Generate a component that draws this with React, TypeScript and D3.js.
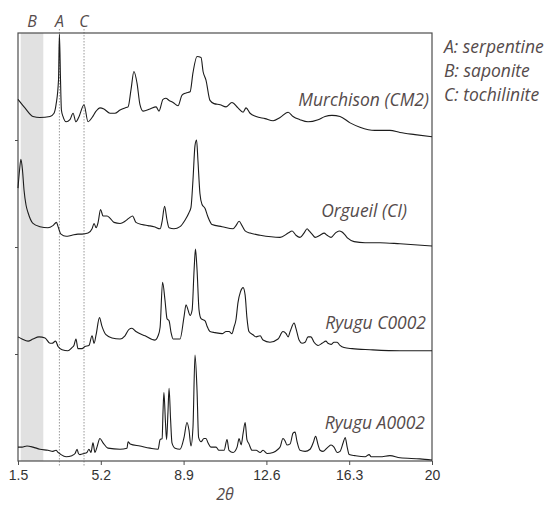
import React, { useRef, useEffect } from "react";
import * as d3 from "d3";

// 2theta (deg) vs relative intensity
const murchison: [number, number][] = [
  [1.5, 0.38], [1.81, 0.3], [2.17, 0.22], [2.48, 0.21], [2.93, 0.22], [3.11, 0.25], [3.2, 0.33],
  [3.31, 0.56], [3.35, 0.99], [3.4, 0.56], [3.44, 0.28], [3.51, 0.22], [3.65, 0.17], [3.82, 0.19],
  [3.96, 0.25], [4.09, 0.17], [4.23, 0.22], [4.45, 0.33], [4.63, 0.17], [4.81, 0.21], [4.99, 0.27],
  [5.16, 0.3], [5.34, 0.29], [5.61, 0.25], [5.83, 0.25], [6.06, 0.28], [6.28, 0.3], [6.42, 0.31],
  [6.55, 0.47], [6.68, 0.64], [6.82, 0.53], [6.95, 0.33], [7.09, 0.27], [7.4, 0.29], [7.67, 0.31],
  [7.8, 0.27], [7.98, 0.38], [8.11, 0.39], [8.25, 0.37], [8.43, 0.35], [8.65, 0.32], [8.83, 0.42],
  [9.01, 0.44], [9.19, 0.45], [9.32, 0.63], [9.5, 0.78], [9.68, 0.77], [9.77, 0.64], [9.9, 0.56],
  [10.08, 0.37], [10.26, 0.34], [10.53, 0.33], [10.8, 0.31], [11.06, 0.35], [11.33, 0.3], [11.56, 0.26],
  [11.69, 0.3], [11.87, 0.25], [12.14, 0.22], [12.54, 0.2], [12.9, 0.18], [13.21, 0.21], [13.57, 0.26],
  [13.79, 0.22], [14.1, 0.19], [14.46, 0.17], [14.91, 0.19], [15.22, 0.22], [15.53, 0.23], [15.89, 0.22],
  [16.34, 0.16], [16.78, 0.12], [17.45, 0.09], [18.12, 0.09], [18.57, 0.07], [19.24, 0.05], [20.0, 0.03],
];

const orgueil: [number, number][] = [
  [1.5, 0.55], [1.57, 0.72], [1.63, 0.82], [1.7, 0.72], [1.77, 0.53], [1.86, 0.39], [1.95, 0.32],
  [2.17, 0.22], [2.48, 0.19], [2.84, 0.18], [3.06, 0.2], [3.22, 0.23], [3.29, 0.19], [3.42, 0.12],
  [3.65, 0.1], [3.91, 0.11], [4.18, 0.12], [4.36, 0.12], [4.63, 0.13], [4.81, 0.17], [4.9, 0.22],
  [4.99, 0.18], [5.08, 0.23], [5.19, 0.35], [5.3, 0.29], [5.48, 0.29], [5.61, 0.27], [5.79, 0.23],
  [6.06, 0.22], [6.28, 0.24], [6.46, 0.27], [6.62, 0.29], [6.77, 0.23], [7.04, 0.21], [7.31, 0.2],
  [7.58, 0.19], [7.85, 0.17], [7.94, 0.24], [8.05, 0.38], [8.16, 0.25], [8.25, 0.18], [8.47, 0.17],
  [8.74, 0.19], [8.96, 0.25], [9.14, 0.32], [9.23, 0.37], [9.32, 0.63], [9.41, 0.95], [9.48, 1.0],
  [9.54, 0.81], [9.63, 0.5], [9.72, 0.4], [9.86, 0.36], [9.99, 0.28], [10.17, 0.21], [10.62, 0.19],
  [11.11, 0.17], [11.24, 0.2], [11.38, 0.24], [11.51, 0.2], [11.65, 0.15], [11.87, 0.13], [12.32, 0.11],
  [13.21, 0.09], [13.57, 0.13], [13.75, 0.15], [13.92, 0.11], [14.1, 0.09], [14.28, 0.13], [14.42, 0.17],
  [14.51, 0.15], [14.64, 0.12], [14.78, 0.09], [15.0, 0.11], [15.18, 0.13], [15.31, 0.11], [15.49, 0.09],
  [15.68, 0.13], [15.85, 0.15], [15.98, 0.14], [16.12, 0.11], [16.25, 0.08], [16.52, 0.05], [17.01, 0.04],
  [17.68, 0.04], [18.57, 0.03], [20.0, 0.01],
];

const ryuguC: [number, number][] = [
  [1.5, 0.16], [1.68, 0.14], [1.95, 0.12], [2.17, 0.14], [2.44, 0.16], [2.71, 0.15], [2.93, 0.1],
  [3.02, 0.1], [3.18, 0.12], [3.29, 0.07], [3.47, 0.04], [3.73, 0.03], [3.91, 0.06], [4.0, 0.08],
  [4.09, 0.14], [4.18, 0.05], [4.36, 0.05], [4.49, 0.07], [4.67, 0.08], [4.81, 0.17], [4.9, 0.1],
  [4.99, 0.18], [5.14, 0.34], [5.25, 0.26], [5.43, 0.18], [5.7, 0.15], [6.06, 0.14], [6.28, 0.17],
  [6.46, 0.23], [6.59, 0.24], [6.77, 0.21], [7.18, 0.17], [7.62, 0.13], [7.76, 0.17], [7.85, 0.25],
  [7.96, 0.67], [8.07, 0.5], [8.16, 0.33], [8.25, 0.31], [8.34, 0.2], [8.43, 0.14], [8.74, 0.14],
  [8.92, 0.35], [9.01, 0.46], [9.1, 0.41], [9.19, 0.36], [9.28, 0.41], [9.37, 0.79], [9.43, 0.98],
  [9.5, 0.79], [9.59, 0.41], [9.68, 0.33], [9.86, 0.31], [9.95, 0.26], [10.08, 0.21], [10.3, 0.2],
  [10.62, 0.19], [10.8, 0.21], [10.93, 0.21], [11.06, 0.19], [11.15, 0.25], [11.24, 0.32], [11.33, 0.48],
  [11.44, 0.58], [11.56, 0.62], [11.65, 0.55], [11.73, 0.34], [11.82, 0.21], [12.0, 0.18], [12.14, 0.16],
  [12.32, 0.17], [12.45, 0.13], [12.76, 0.11], [13.12, 0.14], [13.34, 0.21], [13.48, 0.19], [13.57, 0.16],
  [13.66, 0.21], [13.84, 0.29], [13.92, 0.24], [14.06, 0.13], [14.19, 0.1], [14.33, 0.11], [14.46, 0.16],
  [14.59, 0.16], [14.73, 0.11], [14.91, 0.08], [15.09, 0.1], [15.26, 0.12], [15.35, 0.1], [15.49, 0.09],
  [15.62, 0.11], [15.76, 0.11], [15.89, 0.08], [16.07, 0.06], [16.43, 0.05], [17.23, 0.04], [18.57, 0.03],
  [20.0, 0.03],
];

const ryuguA: [number, number][] = [
  [1.5, 0.13], [1.68, 0.13], [1.9, 0.14], [2.17, 0.13], [2.48, 0.11], [2.84, 0.1], [3.06, 0.09],
  [3.2, 0.1], [3.29, 0.08], [3.42, 0.06], [3.65, 0.04], [3.91, 0.05], [4.05, 0.07], [4.14, 0.11],
  [4.2, 0.07], [4.27, 0.06], [4.45, 0.07], [4.58, 0.08], [4.67, 0.11], [4.76, 0.08], [4.85, 0.17],
  [4.94, 0.08], [5.03, 0.13], [5.16, 0.21], [5.3, 0.17], [5.52, 0.12], [6.06, 0.11], [6.37, 0.12],
  [6.42, 0.18], [6.51, 0.16], [6.95, 0.14], [7.4, 0.12], [7.76, 0.11], [7.85, 0.2], [7.94, 0.21],
  [7.98, 0.46], [8.02, 0.64], [8.09, 0.36], [8.14, 0.2], [8.2, 0.45], [8.25, 0.68], [8.32, 0.38],
  [8.38, 0.17], [8.52, 0.12], [8.74, 0.11], [8.92, 0.22], [9.05, 0.36], [9.14, 0.29], [9.23, 0.14],
  [9.32, 0.32], [9.41, 0.99], [9.5, 0.66], [9.57, 0.22], [9.68, 0.18], [9.81, 0.21], [9.9, 0.21],
  [9.99, 0.17], [10.12, 0.13], [10.35, 0.13], [10.48, 0.1], [10.71, 0.1], [10.84, 0.2], [10.93, 0.1],
  [11.11, 0.08], [11.29, 0.13], [11.38, 0.21], [11.47, 0.15], [11.56, 0.26], [11.65, 0.36], [11.73, 0.2],
  [11.82, 0.16], [11.96, 0.1], [12.14, 0.1], [12.32, 0.08], [12.45, 0.1], [12.63, 0.07], [12.9, 0.08],
  [13.12, 0.11], [13.21, 0.13], [13.34, 0.21], [13.43, 0.19], [13.52, 0.15], [13.66, 0.16], [13.79, 0.26],
  [13.88, 0.27], [13.97, 0.18], [14.1, 0.1], [14.33, 0.09], [14.55, 0.11], [14.69, 0.17], [14.8, 0.23],
  [14.91, 0.15], [15.0, 0.1], [15.13, 0.09], [15.35, 0.13], [15.49, 0.15], [15.62, 0.13], [15.76, 0.08],
  [15.89, 0.09], [16.03, 0.17], [16.12, 0.22], [16.21, 0.13], [16.3, 0.06], [16.56, 0.05], [17.01, 0.04],
  [17.19, 0.06], [17.28, 0.04], [17.68, 0.04], [18.12, 0.05], [18.57, 0.03], [19.46, 0.02], [20.0, 0.01],
];

const sampleNames = ["Murchison (CM2)", "Orgueil (CI)", "Ryugu C0002", "Ryugu A0002"];
const sampleData = [murchison, orgueil, ryuguC, ryuguA];
const sampleOffsets = [3, 2, 1, 0];

const xTicks = [1.5, 5.2, 8.9, 12.6, 16.3, 20];
const bandB: [number, number] = [1.62, 2.63];
const lineA = 3.35;
const lineC = 4.45;
const legendItems = ["A: serpentine", "B: saponite", "C: tochilinite"];

const W = 550;
const H = 505;
const margin = { top: 33, right: 118, bottom: 44, left: 18 };
// label anchors (right end, baseline) in pixels
const labelPos = [
  [429, 106],
  [407, 217],
  [426, 329],
  [425, 429],
];

const ink = "#554b4b";
const italic = "'Open Sans', sans-serif";

const App = () => {
  const ref = useRef<SVGSVGElement>(null);

  useEffect(() => {
    const svg = d3.select(ref.current);
    svg.selectAll("*").remove();

    const x = d3.scaleLinear([1.5, 20], [margin.left, W - margin.right]);
    const y = d3.scaleLinear([0, 4], [H - margin.bottom, margin.top]);
    const y0 = H - margin.bottom;

    // B band
    svg.append("rect")
      .attr("x", x(bandB[0]))
      .attr("y", margin.top)
      .attr("width", x(bandB[1]) - x(bandB[0]))
      .attr("height", y0 - margin.top)
      .attr("fill", "#e1e1e1");

    // A and C reference lines
    [lineA, lineC].forEach(v => {
      svg.append("line")
        .attr("x1", x(v)).attr("x2", x(v))
        .attr("y1", 29).attr("y2", y0 + 6)
        .attr("stroke", "#808080")
        .attr("stroke-width", 0.8)
        .attr("stroke-dasharray", "1.5,1.5");
    });

    const letters: [string, number][] = [["B", (bandB[0] + bandB[1]) / 2], ["A", lineA], ["C", lineC]];
    svg.append("g").selectAll("text")
      .data(letters)
      .enter()
      .append("text")
      .attr("x", d => x(d[1]))
      .attr("y", 27)
      .attr("text-anchor", "middle")
      .attr("font-family", italic)
      .attr("font-style", "italic")
      .attr("font-size", 16)
      .attr("fill", ink)
      .text(d => d[0]);

    // frame
    svg.append("rect")
      .attr("x", margin.left)
      .attr("y", margin.top)
      .attr("width", W - margin.right - margin.left)
      .attr("height", y0 - margin.top)
      .attr("fill", "none")
      .attr("stroke", "#4d4d4d")
      .attr("stroke-width", 1.2);

    // bottom axis
    svg.append("g")
      .attr("transform", `translate(0,${y0})`)
      .call(d3.axisBottom(x).tickValues(xTicks).tickSize(4).tickPadding(5).tickFormat(d => String(d)))
      .call(g => g.select(".domain").remove())
      .call(g => g.selectAll(".tick line").attr("stroke", "#4d4d4d"))
      .call(g => g.selectAll(".tick text")
        .attr("font-family", "'Liberation Sans', Arial, sans-serif")
        .attr("font-size", 14)
        .attr("fill", "#333"));

    // small offset ticks on the left
    svg.append("g")
      .attr("transform", `translate(${margin.left},0)`)
      .call(d3.axisLeft(y).tickValues([1, 2, 3]).tickSize(3).tickFormat(() => ""))
      .call(g => g.select(".domain").remove())
      .call(g => g.selectAll(".tick line").attr("stroke", "#4d4d4d"));

    // patterns
    sampleData.forEach((data, i) => {
      const line = d3.line<[number, number]>()
        .curve(d3.curveMonotoneX)
        .x(d => x(d[0]))
        .y(d => y(d[1] + sampleOffsets[i]));
      svg.append("path")
        .attr("fill", "none")
        .attr("stroke", "#1c1c1c")
        .attr("stroke-width", 1.1)
        .attr("stroke-linejoin", "round")
        .attr("d", line(data));

      svg.append("text")
        .attr("x", labelPos[i][0])
        .attr("y", labelPos[i][1])
        .attr("text-anchor", "end")
        .attr("font-family", italic)
        .attr("font-style", "italic")
        .attr("font-size", 17.5)
        .attr("fill", ink)
        .text(sampleNames[i]);
    });

    // legend
    svg.append("g").selectAll("text")
      .data(legendItems)
      .enter()
      .append("text")
      .attr("x", 444)
      .attr("y", (d, i) => 53 + i * 24)
      .attr("font-family", italic)
      .attr("font-style", "italic")
      .attr("font-size", 17.5)
      .attr("fill", ink)
      .text(d => d);

    // x title
    svg.append("text")
      .attr("x", (margin.left + W - margin.right) / 2)
      .attr("y", 500)
      .attr("text-anchor", "middle")
      .attr("font-family", italic)
      .attr("font-style", "italic")
      .attr("font-size", 16)
      .attr("fill", ink)
      .text("2θ");
  }, []);

  return (
    <svg ref={ref} width={W} height={H}
      style={{ position: "absolute", left: 0, top: 0, background: "#fff" }}>
    </svg>
  );
};

export default App;
